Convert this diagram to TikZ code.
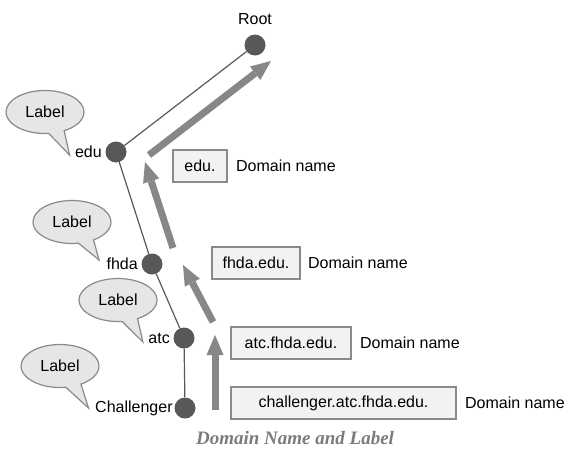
\documentclass[tikz,border=0pt]{standalone}
\usepackage{fontspec}
\setmainfont{Liberation Sans}
\newfontfamily\captionserif{Liberation Serif}
\usepackage{tikz}
\definecolor{dotgray}{HTML}{58585A}
\definecolor{arrowgray}{HTML}{878787}
\definecolor{boxgray}{HTML}{F1F2F1}
\definecolor{edgegray}{HTML}{8A8A8A}
\definecolor{bubblegray}{HTML}{E6E6E7}
\definecolor{captiongray}{HTML}{7B7B7B}
\usetikzlibrary{positioning, arrows.meta, shapes}
\usetikzlibrary{shapes.callouts}
\tikzstyle{treedot} = [circle, fill=dotgray, minimum size=21pt, inner sep=0pt]
\tikzstyle{link} = [draw=dotgray, line width=1.2pt]
\tikzstyle{uparrow} = [draw=arrowgray, line width=7pt, -{Triangle[length=20pt,width=17pt,line width=0pt]}]
\tikzstyle{namebox} = [draw=edgegray, fill=boxgray, line width=1.2pt, minimum height=32pt, inner sep=0pt]
\tikzstyle{bubble} = [ellipse callout, draw=edgegray, fill=bubblegray, line width=1.2pt, minimum width=78pt, minimum height=43pt, inner sep=0pt, callout pointer arc=24]

\begin{document}
\begin{tikzpicture}[x=1pt, y=-1pt, font=\fontsize{16}{19}\selectfont]
                \useasboundingbox (0,0) rectangle (569,451);
                % tree
                \node[treedot] (root) at (255,45)  {};
                \node[treedot] (edu)  at (116,152) {};
                \node[treedot] (fhda) at (152,264) {};
                \node[treedot] (atc)  at (184,338) {};
                \node[treedot] (chal) at (185,408) {};
                \draw[link] (edu) -- (root);
                \draw[link] (edu) -- (fhda);
                \draw[link] (fhda) -- (atc);
                \draw[link] (atc) -- (chal);
                \node (rootL) at (255,19) {Root};
                \node[left] (eduL)  at (edu.west)  {edu};
                \node[left] (fhdaL) at (fhda.west) {fhda};
                \node[left] (atcL)  at (atc.west)  {atc};
                \node[left, inner sep=1.5pt] (chalL) at (chal.west) {Challenger};
                % labels
                \node[bubble, callout absolute pointer={([shift={(-2,3)}]eduL.west)}] (eduB) at (45,112) {Label};
                \node[bubble, callout absolute pointer={([shift={(-4,-4)}]fhdaL.west)}] (fhdaB) at (72,222) {Label};
                \node[bubble, callout absolute pointer={([shift={(-2,4)}]atcL.west)}] (atcB) at (118,300) {Label};
                \node[bubble, callout absolute pointer={([shift={(-5,0)}]chalL.west)}] (chalB) at (60,366) {Label};
                % domain names
                \node[namebox, minimum width=54pt]  (eduN)  at (200,166)   {edu.};
                \node[namebox, minimum width=88pt]  (fhdaN) at (256,263)   {fhda.edu.};
                \node[namebox, minimum width=120pt] (atcN)  at (291,343)   {atc.fhda.edu.};
                \node[namebox, minimum width=225pt] (chalN) at (343.5,403) {challenger.atc.fhda.edu.};
                \node[anchor=west] (eduD)  at ([xshift=5pt]eduN.east)  {Domain name};
                \node[anchor=west] (fhdaD) at ([xshift=4pt]fhdaN.east) {Domain name};
                \node[anchor=west] (atcD)  at ([xshift=5pt]atcN.east)  {Domain name};
                \node[anchor=west] (chalD) at ([xshift=5pt]chalN.east) {Domain name};
                % arrows
                \coordinate (a1s) at (215,410);
                \coordinate (a1e) at (215,335);
                \coordinate (a2s) at (213,322);
                \coordinate (a2e) at (183,265);
                \coordinate (a3s) at (173,248);
                \coordinate (a3e) at (145,162);
                \coordinate (a4s) at (149,155);
                \coordinate (a4e) at (271,61);
                \draw[uparrow] (a1s) -- (a1e);
                \draw[uparrow] (a2s) -- (a2e);
                \draw[uparrow] (a3s) -- (a3e);
                \draw[uparrow] (a4s) -- (a4e);
                \node[font=\captionserif\bfseries\itshape\fontsize{19}{23}\selectfont, text=captiongray] (caption) at (295,438) {Domain Name and Label};
              \end{tikzpicture}
\end{document}
